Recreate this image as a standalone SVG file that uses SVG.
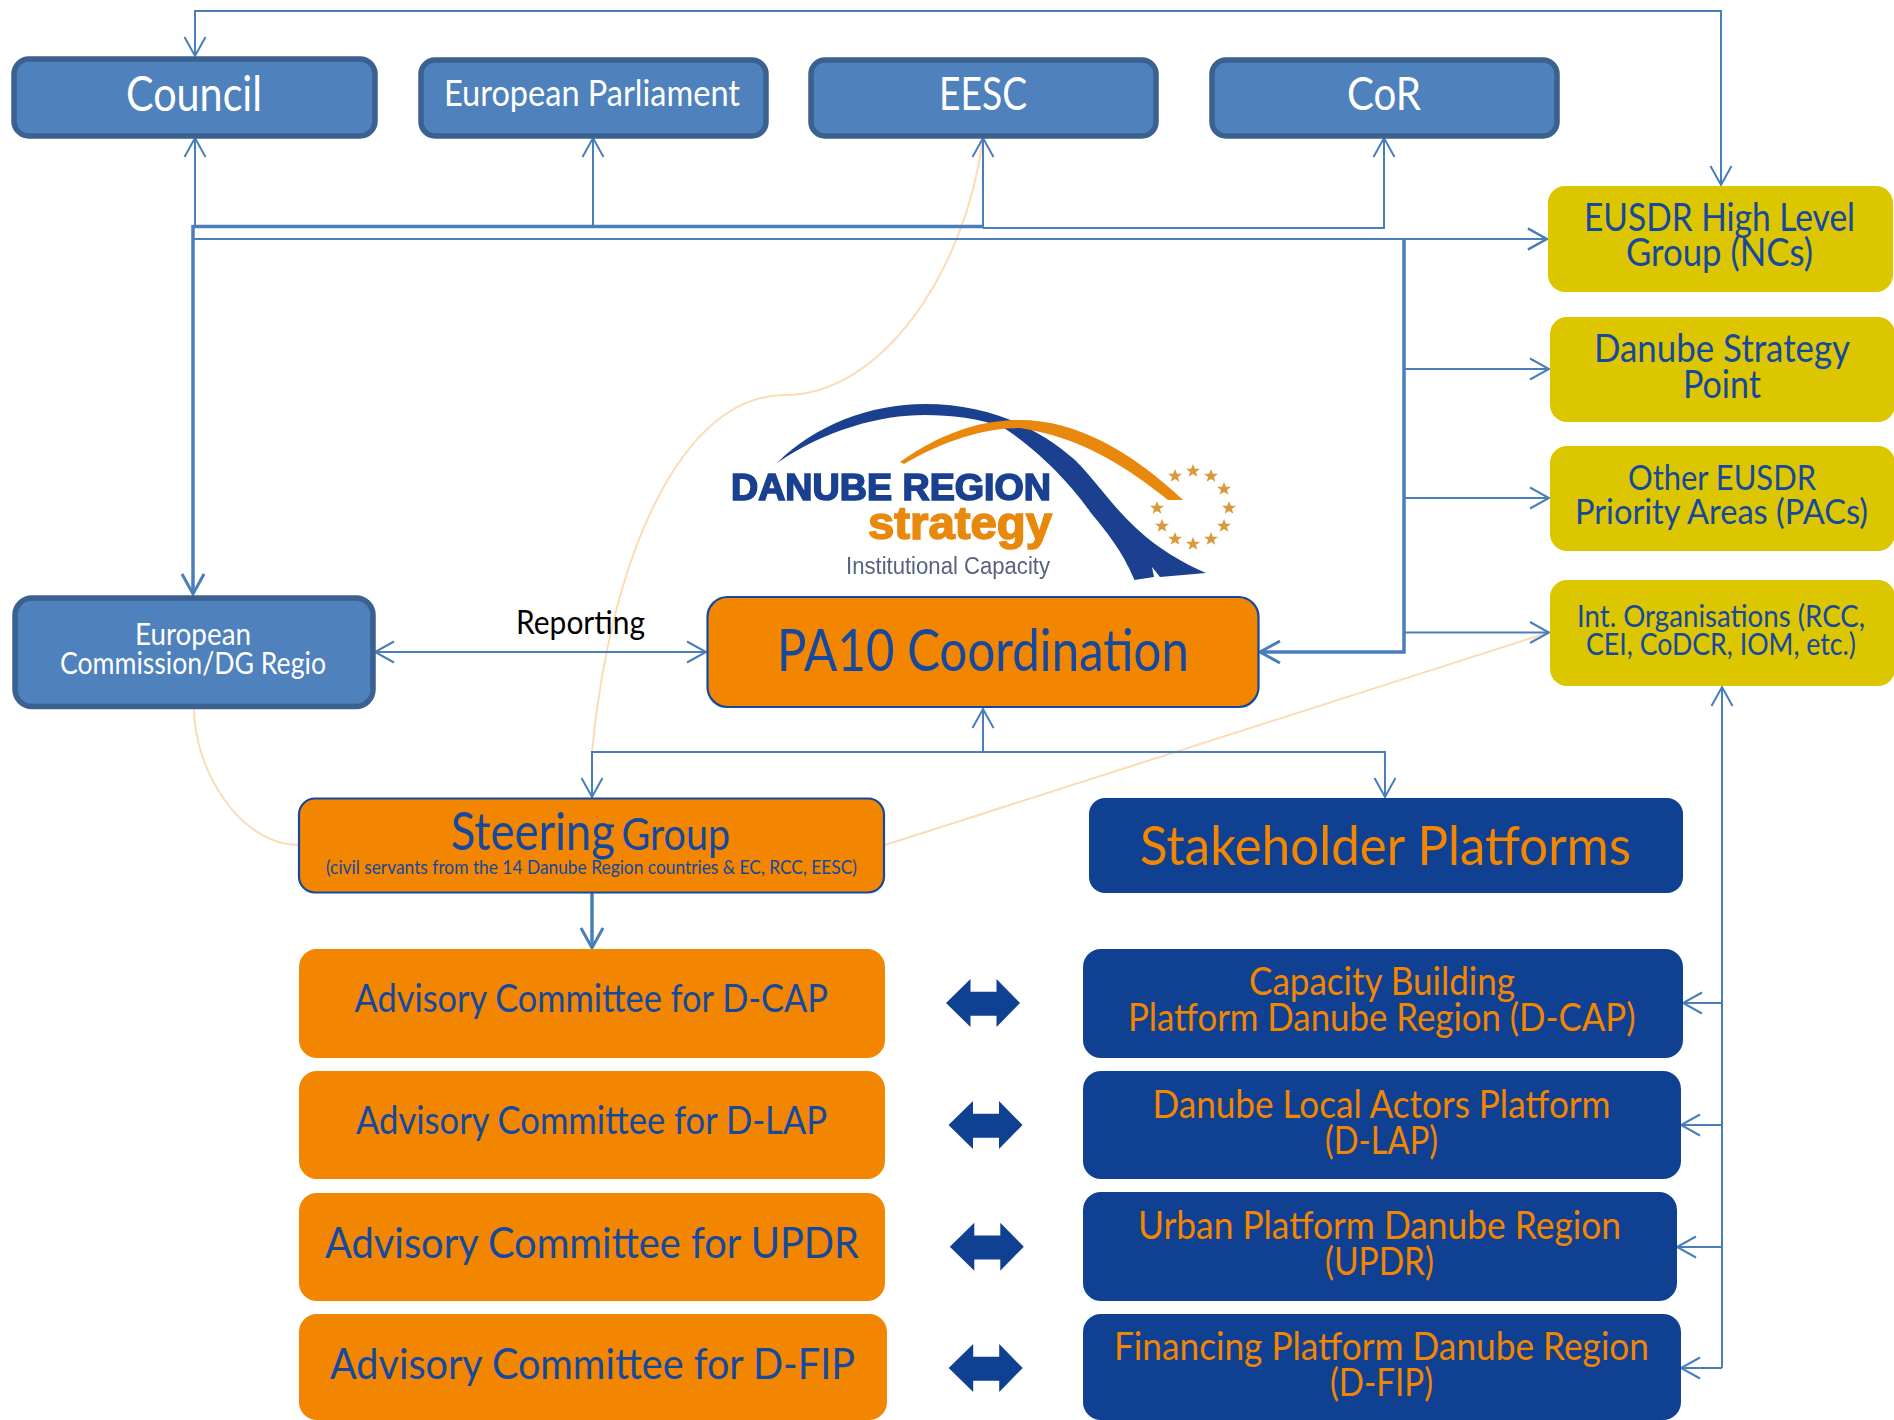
<svg xmlns="http://www.w3.org/2000/svg" width="1894" height="1420" viewBox="0 0 1894 1420">
<defs>
<style>
text{font-family:"Lato","Open Sans","Liberation Sans",sans-serif;}
.blue{fill:#4f81bd;stroke:#3b6190;stroke-width:5.5;}
.org{fill:#f28600;}
.orgs{fill:#f28600;stroke:#15489c;stroke-width:2.2;}
.navy{fill:#104092;}
.yel{fill:#dcc600;}
.w{fill:#ffffff;}
.b{fill:#16489d;}
.o{fill:#f28600;}
.l{fill:none;stroke:#4a7ebb;stroke-width:2;}
.t{fill:none;stroke:#4a7ebb;stroke-width:3.5;}
.c{fill:none;stroke:#fcdcb6;stroke-width:2;}
.dbl{fill:#104092;}
.star{fill:#d99a3c;}
</style>
<marker id="h" markerUnits="userSpaceOnUse" markerWidth="24" markerHeight="26" refX="20" refY="12" orient="auto-start-reverse" viewBox="0 0 24 26" overflow="visible"><path d="M1,1.5 L20,12 L1,22.5" fill="none" stroke="#4a7ebb" stroke-width="2"/></marker>
<marker id="hb" markerUnits="userSpaceOnUse" markerWidth="26" markerHeight="28" refX="21" refY="12" orient="auto-start-reverse" viewBox="0 0 26 28" overflow="visible"><path d="M1,1 L21,12 L1,23" fill="none" stroke="#4a7ebb" stroke-width="3"/></marker>
<polygon id="dbl" points="946,0 970.5,-24 970.5,-11.3 996.5,-11.3 996.5,-24 1020,0 996.5,24 996.5,12.7 970.5,12.7 970.5,24"/>
<polygon id="st" points="0,-7 1.9,-2.2 7,-2.2 2.9,0.9 4.4,5.8 0,2.9 -4.4,5.8 -2.9,0.9 -7,-2.2 -1.9,-2.2"/>
<filter id="soft" x="-5%" y="-5%" width="110%" height="110%"><feGaussianBlur stdDeviation="0.5"/></filter>
</defs>
<rect width="1894" height="1420" fill="#ffffff"/>

<g id="curves">
<path class="c" d="M983,138 C965,275 880,395 785,395 C680,395 610,560 592,752"/>
<path class="c" d="M194,708 C194,770 240,845 299,845"/>
<path class="c" d="M885,845 L1550,632"/>
</g>

<g id="connectors">
<path class="l" d="M1721,185 L1721,11 L195,11 L195,56" marker-start="url(#h)" marker-end="url(#h)"/>
<path class="l" d="M195,227 L195,138" marker-end="url(#h)"/>
<path class="t" d="M193,226.5 L983,226.5"/>
<path class="l" d="M983,228 L1384,228 L1384,138" marker-end="url(#h)"/>
<path class="l" d="M593,227 L593,138" marker-end="url(#h)"/>
<path class="l" d="M983,227 L983,138" marker-end="url(#h)"/>
<path class="t" d="M193,225 L193,594" marker-end="url(#hb)"/>
<path class="l" d="M193,239 L1547,239" marker-end="url(#h)"/>
<path class="l" d="M1404,239 L1547,239" stroke-width="3" marker-end="url(#h)"/>
<path class="t" d="M1404,239 L1404,652 L1260,652" marker-end="url(#hb)"/>
<path class="l" d="M1404,369 L1549,369" marker-end="url(#h)"/>
<path class="l" d="M1404,498 L1549,498" marker-end="url(#h)"/>
<path class="l" d="M1404,632.5 L1549,632.5" marker-end="url(#h)"/>
<path class="l" d="M375,652 L706,652" marker-start="url(#h)" marker-end="url(#h)"/>
<path class="l" d="M983,752 L983,709" marker-end="url(#h)"/>
<path class="l" d="M592,797 L592,752 L1385,752 L1385,797" marker-start="url(#h)" marker-end="url(#h)"/>
<path class="t" d="M592,893 L592,948" marker-end="url(#hb)"/>
<path class="l" d="M1722,1368 L1722,687" marker-end="url(#h)"/>
<path class="l" d="M1722,1003 L1683,1003" marker-end="url(#h)"/>
<path class="l" d="M1722,1125 L1681,1125" marker-end="url(#h)"/>
<path class="l" d="M1722,1247 L1677,1247" marker-end="url(#h)"/>
<path class="l" d="M1722,1368 L1681,1368" marker-end="url(#h)"/>
</g>

<g id="council"><rect class="blue" x="14" y="59" width="361" height="77" rx="15"/><text class="w" x="126" y="111" font-size="49" textLength="136" lengthAdjust="spacingAndGlyphs">Council</text></g>
<g id="parliament"><rect class="blue" x="421" y="60" width="345" height="76" rx="14"/><text class="w" x="444" y="106" font-size="36" textLength="296" lengthAdjust="spacingAndGlyphs">European Parliament</text></g>
<g id="eesc"><rect class="blue" x="811" y="60" width="345" height="76" rx="14"/><text class="w" x="939" y="110" font-size="47" textLength="88" lengthAdjust="spacingAndGlyphs">EESC</text></g>
<g id="cor"><rect class="blue" x="1212" y="60" width="345" height="76" rx="14"/><text class="w" x="1347" y="110" font-size="47" textLength="74" lengthAdjust="spacingAndGlyphs">CoR</text></g>

<g id="hlg"><rect class="yel" x="1548" y="186" width="345" height="106" rx="17"/><text class="b" x="1584" y="231" font-size="38" textLength="271" lengthAdjust="spacingAndGlyphs">EUSDR High Level</text><text class="b" x="1626" y="266" font-size="38" textLength="187" lengthAdjust="spacingAndGlyphs">Group (NCs)</text></g>
<g id="dsp"><rect class="yel" x="1550" y="317" width="345" height="105" rx="17"/><text class="b" x="1594" y="362" font-size="38" textLength="256" lengthAdjust="spacingAndGlyphs">Danube Strategy</text><text class="b" x="1683" y="398" font-size="38" textLength="78" lengthAdjust="spacingAndGlyphs">Point</text></g>
<g id="pacs"><rect class="yel" x="1550" y="446" width="345" height="105" rx="17"/><text class="b" x="1628" y="490" font-size="35" textLength="188" lengthAdjust="spacingAndGlyphs">Other EUSDR</text><text class="b" x="1575" y="523.5" font-size="35" textLength="293" lengthAdjust="spacingAndGlyphs">Priority Areas (PACs)</text></g>
<g id="intorg"><rect class="yel" x="1550" y="580" width="345" height="106" rx="17"/><text class="b" x="1577" y="626.5" font-size="30" textLength="288" lengthAdjust="spacingAndGlyphs">Int. Organisations (RCC,</text><text class="b" x="1586" y="654.5" font-size="30" textLength="270" lengthAdjust="spacingAndGlyphs">CEI, CoDCR, IOM, etc.)</text></g>

<g id="ec"><rect class="blue" x="15" y="598" width="358" height="108.5" rx="17"/><text class="w" x="135" y="644.5" font-size="30" textLength="116" lengthAdjust="spacingAndGlyphs">European</text><text class="w" x="60" y="673.5" font-size="30" textLength="266" lengthAdjust="spacingAndGlyphs">Commission/DG Regio</text></g>
<text id="reporting" x="516" y="634" font-size="33" fill="#000000" textLength="129" lengthAdjust="spacingAndGlyphs">Reporting</text>

<g id="logo" filter="url(#soft)">
<path fill="#1a4090" d="M777,463 C815,425 870,404 925,404 C985,404 1035,425 1075,460 C1110,495 1130,540 1206,573 L1160,577 L1152,567 L1154,577 L1134.5,580 C1122,550 1105,530 1091,513 C1075,490 1045,455 1004,428 C980,418 950,415 925,415 C880,415 825,430 777,463 Z"/>
<path fill="#e8890c" d="M900,462 C945,430 985,420 1020,420 C1075,420 1130,450 1183,500 L1168,500 C1130,470 1085,438 1020,428 C985,428 945,440 904,464 Z"/>
<g class="star">
<use href="#st" x="1193" y="471"/><use href="#st" x="1211" y="476"/><use href="#st" x="1224" y="489"/><use href="#st" x="1229" y="508"/><use href="#st" x="1224" y="526"/><use href="#st" x="1211" y="539"/><use href="#st" x="1193" y="544"/><use href="#st" x="1175" y="539"/><use href="#st" x="1162" y="526"/><use href="#st" x="1157" y="508"/><use href="#st" x="1175" y="476"/>
</g>
<text x="731" y="500" font-size="36" font-weight="900" fill="#1a4090" stroke="#1a4090" stroke-width="1.6" textLength="320" lengthAdjust="spacingAndGlyphs" style="font-family:'Liberation Sans',sans-serif">DANUBE REGION</text>
<text x="868" y="539" font-size="46" font-weight="900" fill="#e8890c" stroke="#e8890c" stroke-width="1.6" textLength="184" lengthAdjust="spacingAndGlyphs" style="font-family:'Liberation Sans',sans-serif">strategy</text>
<text x="846" y="574" font-size="23" fill="#56627f" textLength="204" lengthAdjust="spacingAndGlyphs" style="font-family:'Liberation Sans',sans-serif">Institutional Capacity</text>
</g>

<g id="pa10"><rect class="orgs" x="707.5" y="597" width="551" height="110" rx="20"/><text class="b" x="777" y="671" font-size="58" textLength="412" lengthAdjust="spacingAndGlyphs">PA10 Coordination</text></g>

<g id="steering"><rect class="orgs" x="299" y="798.5" width="585" height="94" rx="16"/><text class="b" y="850"><tspan x="451" font-size="52" textLength="164" lengthAdjust="spacingAndGlyphs">Steering</tspan> <tspan x="621.5" font-size="45" textLength="108.5" lengthAdjust="spacingAndGlyphs">Group</tspan></text><text class="b" x="326" y="873.5" font-size="20" textLength="531" lengthAdjust="spacingAndGlyphs">(civil servants from the 14 Danube Region countries &amp; EC, RCC, EESC)</text></g>
<g id="stakeholder"><rect class="navy" x="1089" y="798" width="594" height="95" rx="16"/><text class="o" x="1140" y="864.5" font-size="54" textLength="491" lengthAdjust="spacingAndGlyphs">Stakeholder Platforms</text></g>

<g id="ac-dcap"><rect class="org" x="299" y="949" width="586" height="109" rx="18"/><text class="b" x="354.5" y="1012" font-size="38" textLength="473.5" lengthAdjust="spacingAndGlyphs">Advisory Committee for D-CAP</text></g>
<g id="ac-dlap"><rect class="org" x="299" y="1071" width="586" height="108" rx="18"/><text class="b" x="356" y="1134" font-size="38" textLength="471" lengthAdjust="spacingAndGlyphs">Advisory Committee for D-LAP</text></g>
<g id="ac-updr"><rect class="org" x="299" y="1193" width="586" height="108" rx="18"/><text class="b" x="325" y="1258" font-size="43" textLength="534" lengthAdjust="spacingAndGlyphs">Advisory Committee for UPDR</text></g>
<g id="ac-dfip"><rect class="org" x="299" y="1314" width="588" height="106" rx="18"/><text class="b" x="330" y="1379" font-size="43" textLength="525" lengthAdjust="spacingAndGlyphs">Advisory Committee for D-FIP</text></g>

<g id="dblarrows" class="dbl"><use href="#dbl" y="1003"/><use href="#dbl" x="2.5" y="1125"/><use href="#dbl" x="3.8" y="1246.7"/><use href="#dbl" x="2.7" y="1368"/></g>

<g id="p-dcap"><rect class="navy" x="1083" y="949" width="600" height="109" rx="18"/><text class="o" x="1249" y="995" font-size="39" textLength="266" lengthAdjust="spacingAndGlyphs">Capacity Building</text><text class="o" x="1128" y="1031" font-size="39" textLength="507.5" lengthAdjust="spacingAndGlyphs">Platform Danube Region (D-CAP)</text></g>
<g id="p-dlap"><rect class="navy" x="1083" y="1071" width="598" height="108" rx="18"/><text class="o" x="1152.5" y="1117.5" font-size="39" textLength="458" lengthAdjust="spacingAndGlyphs">Danube Local Actors Platform</text><text class="o" x="1325" y="1153.5" font-size="39" textLength="113" lengthAdjust="spacingAndGlyphs">(D-LAP)</text></g>
<g id="p-updr"><rect class="navy" x="1083" y="1192" width="594" height="109" rx="18"/><text class="o" x="1138" y="1238.5" font-size="39" textLength="483" lengthAdjust="spacingAndGlyphs">Urban Platform Danube Region</text><text class="o" x="1325" y="1274.5" font-size="39" textLength="109" lengthAdjust="spacingAndGlyphs">(UPDR)</text></g>
<g id="p-dfip"><rect class="navy" x="1083" y="1314" width="598" height="106" rx="18"/><text class="o" x="1114" y="1359.5" font-size="39" textLength="535" lengthAdjust="spacingAndGlyphs">Financing Platform Danube Region</text><text class="o" x="1330" y="1395.5" font-size="39" textLength="103" lengthAdjust="spacingAndGlyphs">(D-FIP)</text></g>
</svg>
